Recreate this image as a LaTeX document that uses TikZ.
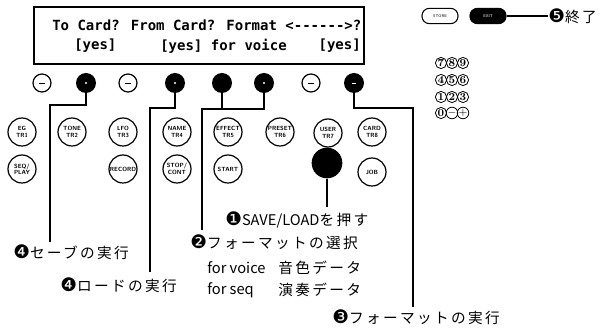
\documentclass[tikz,border=0pt]{standalone}
\usepackage{fontspec}
\newfontfamily\jp{Noto Sans CJK JP}[LetterSpace=16]
\newfontfamily\jpl{Noto Sans CJK JP}
\newfontfamily\dv{DejaVu Sans}
\newfontfamily\lcd{DejaVu Sans Mono Bold}
\newcommand\numdot[1]{{\dv\fontsize{14}{12}\selectfont#1}}
\tikzset{
  key/.style={circle, draw, line width=0.9pt, minimum size=21pt, inner sep=0pt,
    align=center, font=\sffamily\bfseries\fontsize{4.5}{4.8}\selectfont},
  softkey/.style={circle, draw, line width=0.9pt, minimum size=13.5pt, inner sep=0pt,
    path picture={\draw[line width=0.6pt] ([xshift=-2.6pt]path picture bounding box.center)
      -- ([xshift=2.6pt]path picture bounding box.center);}},
  hotkey/.style={circle, fill=black, minimum size=15pt, inner sep=0pt},
  pill/.style={rounded corners=5.5pt, draw, line width=0.8pt, minimum width=27pt,
    minimum height=11.5pt, inner sep=0pt, font=\sffamily\fontsize{3}{3}\selectfont},
  padkey/.style={circle, draw, line width=0.6pt, minimum size=8.4pt, inner sep=0pt,
    font=\bfseries\fontsize{8}{8}\selectfont},
  note/.style={anchor=west, inner sep=0pt, font=\jp\fontsize{11}{12}\selectfont},
  wire/.style={line width=1.1pt}
}
\begin{document}
\begin{tikzpicture}[x=0.75pt, y=-0.75pt]
      \useasboundingbox (0,0) rectangle (604,331);
      \node (lcdbox) [draw, line width=1.5pt, minimum width=247.5pt, minimum height=42.75pt,
        inner sep=0pt] at (199,35.5) {};
      \node (row1) [anchor=west, inner sep=0pt, font=\lcd\fontsize{10.5}{11}\selectfont]
        at (52,25) {To Card? From Card? Format <------>?};
      \node (yes1) [anchor=west, inner sep=0pt, font=\lcd\fontsize{10.5}{11}\selectfont]
        at (74,46) {[yes]};
      \node (yes2) [anchor=west, inner sep=0pt, font=\lcd\fontsize{10.5}{11}\selectfont]
        at (160,46) {[yes] for voice};
      \node (yes3) [anchor=east, inner sep=0pt, font=\lcd\fontsize{10.5}{11}\selectfont]
        at (361,46) {[yes]};
      \draw
        (42,83) node (b1) [softkey] {}
        (86,83) node (b2) [hotkey] {}
        (128,83) node (b3) [softkey] {}
        (175,83) node (b4) [hotkey] {}
        (222,83) node (b5) [hotkey] {}
        (264,83) node (b6) [hotkey] {}
        (311,83) node (b7) [softkey] {}
        (354,83) node (b8) [hotkey] {};
      \fill[white] (b2) circle (0.8pt) (b4) circle (0.8pt) (b6) circle (0.8pt);
      \fill[white] ([xshift=-1.5pt]b8.center) rectangle ([xshift=1.5pt,yshift=-0.7pt]b8.center);
      \draw
        (22,132) node (eg) [key] {EG\\TR1}
        (22,169) node (seq) [key] {SEQ/\\PLAY}
        (72,132) node (tone) [key] {TONE\\TR2}
        (123,132) node (lfo) [key] {LFO\\TR3}
        (123,169) node (rec) [key] {RECORD}
        (177,132) node (name) [key] {NAME\\TR4}
        (177,169) node (stop) [key] {STOP/\\CONT}
        (228,132) node (effect) [key] {EFFECT\\TR5}
        (280,132) node (preset) [key] {PRESET\\TR6}
        (228,169) node (start) [key] {START}
        (328,133) node (user) [key] {USER\\TR7}
        (372,132) node (card) [key] {CARD\\TR8}
        (372,172) node (job) [key] {JOB};
      \node (save) [circle, fill=black, minimum width=22pt, minimum height=23pt, inner sep=0pt]
        at (327,163) {};
      \node (store) [pill] at (440,16) {STORE};
      \node (exit) [pill, fill=black, text=white] at (488,16) {EXIT};
      \foreach \k/\col/\row in {7/0/63, 8/1/63, 9/2/63, 4/0/80, 5/1/80, 6/2/80,
                                1/0/97, 2/1/97, 3/2/97, 0/0/113}
        \node (pad\k) [padkey] at (441+11*\col,\row) {\k};
      \node (padminus) [padkey] at (452,113) {$-$};
      \node (padplus) [padkey] at (463,113) {$+$};
      \node (lend) [note] at (548,16) {\numdot{❺}終了};
      \node (lsave) [note] at (225,220) {\numdot{❶}{\jpl SAVE/LOAD}を押す};
      \node (lfmt) [note] at (190,242) {\numdot{❷}フォーマットの選択};
      \node (lvoice) [note, font=\jpl\fontsize{11}{12}\selectfont] at (207,268) {for voice};
      \node (dvoice) [note] at (278,268) {音色データ};
      \node (lseq) [note, font=\jpl\fontsize{11}{12}\selectfont] at (207,290) {for seq};
      \node (dseq) [note] at (278,290) {演奏データ};
      \node (lexec) [note] at (332,317) {\numdot{❸}フォーマットの実行};
      \node (lsv) [note] at (13,252) {\numdot{❹}セーブの実行};
      \node (lld) [note] at (60,285) {\numdot{❹}ロードの実行};
      \coordinate (j1) at (50,105);
      \coordinate (j2) at (150,108);
      \coordinate (j3) at (202,109);
      \coordinate (j4) at (413,108);
      \begin{scope}[wire]
        \draw (b2.south) |- (j1) -- (50,242);
        \draw (b4.south) |- (j2) -- (150,272);
        \draw (b5.south) -- (b5 |- j3);
        \draw (b6.south) |- (j3) -- (202,230);
        \draw (b8.south) |- (j4) -- (413,307);
        \draw (save.south) -- (327,207);
        \draw (exit.east) -- (lend.west);
      \end{scope}
    \end{tikzpicture}
\end{document}
